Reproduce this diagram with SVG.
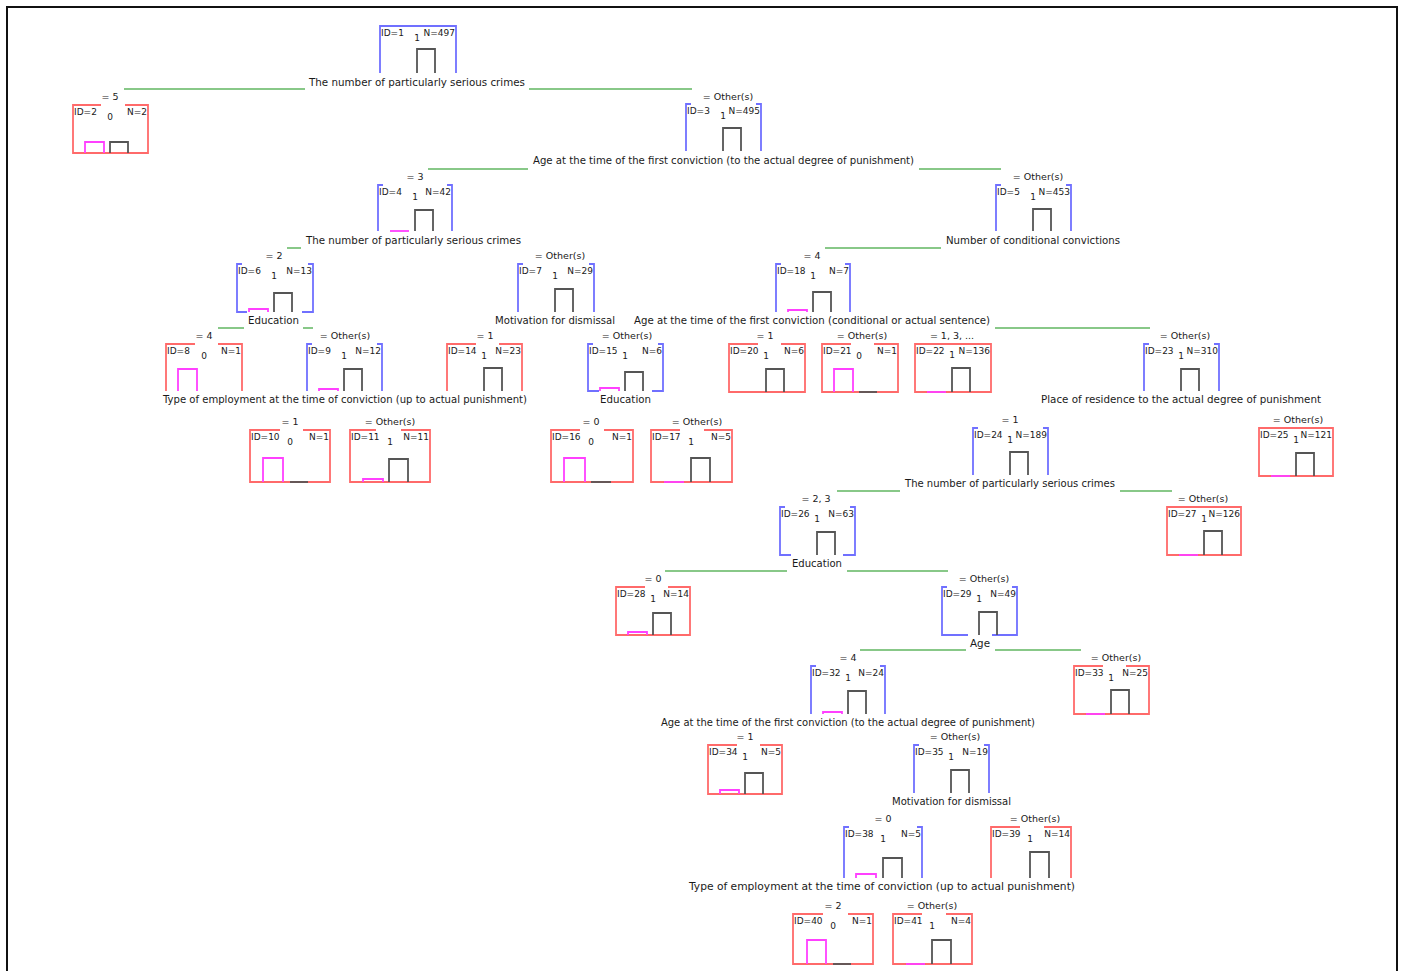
<svg xmlns="http://www.w3.org/2000/svg" width="1401" height="971" viewBox="0 0 1401 971">
<style>
.bl{stroke:#7070ff;fill:none;stroke-width:1.8}
.rd{stroke:#ff6a6a;fill:none;stroke-width:1.8}
.mg{stroke:#ff40ff;fill:none;stroke-width:1.8}
.dk{stroke:#555;fill:none;stroke-width:1.8}
.gr{stroke:#88c888;fill:none;stroke-width:1.8}
text{font-family:"DejaVu Sans","Liberation Sans",sans-serif;fill:#1a1a1a}
.i{font-size:9px}
.n{font-size:9px;text-anchor:end}
.c{font-size:9px;text-anchor:middle}
.e{font-size:9.5px;text-anchor:middle}
.s{font-size:10px;text-anchor:middle}
</style>
<rect width="1401" height="971" fill="#fff"/>
<path d="M7,975 V7 H1397 V975" fill="none" stroke="#111" stroke-width="2"/>
<g id="connectors">
<path class="gr" d="M124,89 H305 M529,89 H692 M428,169 H528 M919,169 H1001 M287,248 H301 M825,248 H941 M218,328 H244 M303,328 H313 M995,328 H1150 M837,491 H900 M1120,491 H1172 M665,571 H787 M847,571 H948 M860,650 H966 M995,650 H1081"/>
</g>
<g id="n1"><path class="bl" d="M380,73 V26 H456 V73"/><path class="dk" d="M417,73 V49 H435 V73"/><text class="i" x="381" y="36">ID=1</text><text class="c" x="417" y="41">1</text><text class="n" x="455" y="36">N=497</text><text class="s" x="417" y="85.5" textLength="216" lengthAdjust="spacingAndGlyphs">The number of particularly serious crimes</text></g>
<g id="n2"><text class="e" x="110" y="100">= 5</text><path class="rd" d="M101,105 H73 V153 H148 V105 H125"/><path class="mg" d="M85,153 V142 H104 V153"/><path class="dk" d="M110,153 V142 H128 V153"/><text class="i" x="74" y="115">ID=2</text><text class="c" x="110" y="120">0</text><text class="n" x="147" y="115">N=2</text></g>
<g id="n3"><text class="e" x="728" y="100">= Other(s)</text><path class="bl" d="M691,104 H686 V151 M756,104 H761 V151"/><path class="dk" d="M723,151 V128 H741 V151"/><text class="i" x="687" y="114">ID=3</text><text class="c" x="723" y="119">1</text><text class="n" x="760" y="114">N=495</text><text class="s" x="723.5" y="164" textLength="381" lengthAdjust="spacingAndGlyphs">Age at the time of the first conviction (to the actual degree of punishment)</text></g>
<g id="n4"><text class="e" x="415" y="180">= 3</text><path class="bl" d="M383,185 H378 V231 M447,185 H452 V231"/><path class="mg" d="M390,231 H409"/><path class="dk" d="M415,231 V210 H433 V231"/><text class="i" x="379" y="195">ID=4</text><text class="c" x="415" y="200">1</text><text class="n" x="451" y="195">N=42</text><text class="s" x="413.5" y="244" textLength="215" lengthAdjust="spacingAndGlyphs">The number of particularly serious crimes</text></g>
<g id="n5"><text class="e" x="1038" y="180">= Other(s)</text><path class="bl" d="M1001,185 H996 V231 M1066,185 H1071 V231"/><path class="dk" d="M1033,231 V209 H1051 V231"/><text class="i" x="997" y="195">ID=5</text><text class="c" x="1033" y="200">1</text><text class="n" x="1070" y="195">N=453</text><text class="s" x="1033" y="244" textLength="174" lengthAdjust="spacingAndGlyphs">Number of conditional convictions</text></g>
<g id="n6"><text class="e" x="274" y="259">= 2</text><path class="bl" d="M242,264 H237 V312 H247 M308,264 H313 V312 H302"/><path class="mg" d="M249,312 V309 H268 V312"/><path class="dk" d="M274,312 V293 H292 V312"/><text class="i" x="238" y="274">ID=6</text><text class="c" x="274" y="279">1</text><text class="n" x="312" y="274">N=13</text><text class="s" x="273.5" y="324" textLength="51" lengthAdjust="spacingAndGlyphs">Education</text></g>
<g id="n7"><text class="e" x="560" y="259">= Other(s)</text><path class="bl" d="M523,264 H518 V312 M589,264 H594 V312"/><path class="dk" d="M555,312 V289 H573 V312"/><text class="i" x="519" y="274">ID=7</text><text class="c" x="555" y="279">1</text><text class="n" x="593" y="274">N=29</text><text class="s" x="555" y="324" textLength="120" lengthAdjust="spacingAndGlyphs">Motivation for dismissal</text></g>
<g id="n18"><text class="e" x="812" y="259">= 4</text><path class="bl" d="M781,264 H776 V312 M845,264 H850 V312"/><path class="mg" d="M788,312 V310 H807 V312"/><path class="dk" d="M813,312 V292 H831 V312"/><text class="i" x="777" y="274">ID=18</text><text class="c" x="813" y="279">1</text><text class="n" x="849" y="274">N=7</text><text class="s" x="812" y="324" textLength="356" lengthAdjust="spacingAndGlyphs">Age at the time of the first conviction (conditional or actual sentence)</text></g>
<g id="n8"><text class="e" x="204" y="339">= 4</text><path class="rd" d="M195,344 H166 V391 M218,344 H242 V391"/><path class="mg" d="M178,391 V369 H197 V391"/><text class="i" x="167" y="354">ID=8</text><text class="c" x="204" y="359">0</text><text class="n" x="241" y="354">N=1</text></g>
<g id="n9"><text class="e" x="345" y="339">= Other(s)</text><path class="bl" d="M312,344 H307 V391 M377,344 H382 V391"/><path class="mg" d="M319,391 V389 H338 V391"/><path class="dk" d="M344,391 V369 H362 V391"/><text class="i" x="308" y="354">ID=9</text><text class="c" x="344" y="359">1</text><text class="n" x="381" y="354">N=12</text><text class="s" x="345" y="403" textLength="364" lengthAdjust="spacingAndGlyphs">Type of employment at the time of conviction (up to actual punishment)</text></g>
<g id="n14"><text class="e" x="485" y="339">= 1</text><path class="rd" d="M476,344 H447 V391 M499,344 H522 V391"/><path class="dk" d="M484,391 V368 H502 V391"/><text class="i" x="448" y="354">ID=14</text><text class="c" x="484" y="359">1</text><text class="n" x="521" y="354">N=23</text></g>
<g id="n15"><text class="e" x="627" y="339">= Other(s)</text><path class="bl" d="M593,344 H588 V391 H599 M658,344 H663 V391 H652"/><path class="mg" d="M600,391 V388 H619 V391"/><path class="dk" d="M625,391 V372 H643 V391"/><text class="i" x="589" y="354">ID=15</text><text class="c" x="625" y="359">1</text><text class="n" x="662" y="354">N=6</text><text class="s" x="625.5" y="403" textLength="51" lengthAdjust="spacingAndGlyphs">Education</text></g>
<g id="n20"><text class="e" x="765" y="339">= 1</text><path class="rd" d="M758,344 H729 V392 H805 V344 H781"/><path class="dk" d="M766,392 V369 H784 V392"/><text class="i" x="730" y="354">ID=20</text><text class="c" x="766" y="359">1</text><text class="n" x="804" y="354">N=6</text></g>
<g id="n21"><text class="e" x="862" y="339">= Other(s)</text><path class="rd" d="M851,344 H822 V392 H898 V344 H874"/><path class="mg" d="M834,392 V369 H853 V392"/><path class="dk" d="M859,392 H877"/><text class="i" x="823" y="354">ID=21</text><text class="c" x="859" y="359">0</text><text class="n" x="897" y="354">N=1</text></g>
<g id="n22"><text class="e" x="952" y="339">= 1, 3, ...</text><path class="rd" d="M915,344 H991 V392 H915 Z"/><path class="mg" d="M927,392 H946"/><path class="dk" d="M952,392 V368 H970 V392"/><text class="i" x="916" y="354">ID=22</text><text class="c" x="952" y="358">1</text><text class="n" x="990" y="354">N=136</text></g>
<g id="n23"><text class="e" x="1185" y="339">= Other(s)</text><path class="bl" d="M1149,344 H1144 V391 M1214,344 H1219 V391"/><path class="dk" d="M1181,391 V369 H1199 V391"/><text class="i" x="1145" y="354">ID=23</text><text class="c" x="1181" y="359">1</text><text class="n" x="1218" y="354">N=310</text><text class="s" x="1181" y="403" textLength="280" lengthAdjust="spacingAndGlyphs">Place of residence to the actual degree of punishment</text></g>
<g id="n10"><text class="e" x="290" y="425">= 1</text><path class="rd" d="M280,430 H250 V482 H330 V430 H303"/><path class="mg" d="M263,482 V458 H283 V482"/><path class="dk" d="M290,482 H308"/><text class="i" x="251" y="440">ID=10</text><text class="c" x="290" y="445">0</text><text class="n" x="329" y="440">N=1</text></g>
<g id="n11"><text class="e" x="390" y="425">= Other(s)</text><path class="rd" d="M376,430 H350 V482 H430 V430 H401"/><path class="mg" d="M363,482 V479 H383 V482"/><path class="dk" d="M389,482 V459 H408 V482"/><text class="i" x="351" y="440">ID=11</text><text class="c" x="390" y="445">1</text><text class="n" x="429" y="440">N=11</text></g>
<g id="n16"><text class="e" x="591" y="425">= 0</text><path class="rd" d="M580,430 H551 V482 H633 V430 H604"/><path class="mg" d="M564,482 V458 H585 V482"/><path class="dk" d="M591,482 H611"/><text class="i" x="552" y="440">ID=16</text><text class="c" x="591" y="445">0</text><text class="n" x="632" y="440">N=1</text></g>
<g id="n17"><text class="e" x="697" y="425">= Other(s)</text><path class="rd" d="M680,430 H651 V482 H732 V430 H704"/><path class="mg" d="M664,482 H684"/><path class="dk" d="M691,482 V458 H710 V482"/><text class="i" x="652" y="440">ID=17</text><text class="c" x="691" y="445">1</text><text class="n" x="731" y="440">N=5</text></g>
<g id="n24"><text class="e" x="1010" y="423">= 1</text><path class="bl" d="M978,428 H973 V475 M1043,428 H1048 V475"/><path class="dk" d="M1010,475 V452 H1028 V475"/><text class="i" x="974" y="438">ID=24</text><text class="c" x="1010" y="443">1</text><text class="n" x="1047" y="438">N=189</text><text class="s" x="1010" y="487" textLength="210" lengthAdjust="spacingAndGlyphs">The number of particularly serious crimes</text></g>
<g id="n25"><text class="e" x="1298" y="423">= Other(s)</text><path class="rd" d="M1259,428 H1333 V476 H1259 Z"/><path class="mg" d="M1271,476 H1290"/><path class="dk" d="M1296,476 V453 H1314 V476"/><text class="i" x="1260" y="438">ID=25</text><text class="c" x="1296" y="443">1</text><text class="n" x="1332" y="438">N=121</text></g>
<g id="n26"><text class="e" x="816" y="502">= 2, 3</text><path class="bl" d="M785,507 H780 V555 H791 M850,507 H855 V555 H843"/><path class="dk" d="M817,555 V532 H835 V555"/><text class="i" x="781" y="517">ID=26</text><text class="c" x="817" y="522">1</text><text class="n" x="854" y="517">N=63</text><text class="s" x="817" y="567" textLength="50" lengthAdjust="spacingAndGlyphs">Education</text></g>
<g id="n27"><text class="e" x="1203" y="502">= Other(s)</text><path class="rd" d="M1167,507 H1241 V555 H1167 Z"/><path class="mg" d="M1179,555 H1198"/><path class="dk" d="M1204,555 V531 H1222 V555"/><text class="i" x="1168" y="517">ID=27</text><text class="c" x="1204" y="522">1</text><text class="n" x="1240" y="517">N=126</text></g>
<g id="n28"><text class="e" x="653" y="582">= 0</text><path class="rd" d="M645,587 H616 V635 H690 V587 H668"/><path class="mg" d="M628,635 V632 H647 V635"/><path class="dk" d="M653,635 V613 H671 V635"/><text class="i" x="617" y="597">ID=28</text><text class="c" x="653" y="602">1</text><text class="n" x="689" y="597">N=14</text></g>
<g id="n29"><text class="e" x="984" y="582">= Other(s)</text><path class="bl" d="M947,587 H942 V635 H968 M1012,587 H1017 V635 H992"/><path class="dk" d="M979,635 V612 H997 V635"/><text class="i" x="943" y="597">ID=29</text><text class="c" x="979" y="602">1</text><text class="n" x="1016" y="597">N=49</text><text class="s" x="980" y="647" textLength="20" lengthAdjust="spacingAndGlyphs">Age</text></g>
<g id="n32"><text class="e" x="848" y="661">= 4</text><path class="bl" d="M816,666 H811 V714 M880,666 H885 V714"/><path class="mg" d="M823,714 V712 H842 V714"/><path class="dk" d="M848,714 V691 H866 V714"/><text class="i" x="812" y="676">ID=32</text><text class="c" x="848" y="681">1</text><text class="n" x="884" y="676">N=24</text><text class="s" x="848" y="726" textLength="374" lengthAdjust="spacingAndGlyphs">Age at the time of the first conviction (to the actual degree of punishment)</text></g>
<g id="n33"><text class="e" x="1116" y="661">= Other(s)</text><path class="rd" d="M1103,666 H1074 V714 H1149 V666 H1126"/><path class="mg" d="M1086,714 H1105"/><path class="dk" d="M1111,714 V690 H1129 V714"/><text class="i" x="1075" y="676">ID=33</text><text class="c" x="1111" y="681">1</text><text class="n" x="1148" y="676">N=25</text></g>
<g id="n34"><text class="e" x="745" y="740">= 1</text><path class="rd" d="M737,745 H708 V794 H782 V745 H760"/><path class="mg" d="M720,794 V790 H739 V794"/><path class="dk" d="M745,794 V773 H763 V794"/><text class="i" x="709" y="755">ID=34</text><text class="c" x="745" y="760">1</text><text class="n" x="781" y="755">N=5</text></g>
<g id="n35"><text class="e" x="955" y="740">= Other(s)</text><path class="bl" d="M919,745 H914 V793 M984,745 H989 V793"/><path class="dk" d="M951,793 V770 H969 V793"/><text class="i" x="915" y="755">ID=35</text><text class="c" x="951" y="760">1</text><text class="n" x="988" y="755">N=19</text><text class="s" x="951.5" y="805" textLength="119" lengthAdjust="spacingAndGlyphs">Motivation for dismissal</text></g>
<g id="n38"><text class="e" x="883" y="822">= 0</text><path class="bl" d="M849,827 H844 V878 M917,827 H922 V878"/><path class="mg" d="M856,878 V874 H876 V878"/><path class="dk" d="M883,878 V858 H902 V878"/><text class="i" x="845" y="837">ID=38</text><text class="c" x="883" y="842">1</text><text class="n" x="921" y="837">N=5</text><text class="s" x="882" y="890" textLength="386" lengthAdjust="spacingAndGlyphs">Type of employment at the time of conviction (up to actual punishment)</text></g>
<g id="n39"><text class="e" x="1035" y="822">= Other(s)</text><path class="rd" d="M1020,827 H991 V878 M1044,827 H1071 V878"/><path class="dk" d="M1030,878 V852 H1049 V878"/><text class="i" x="992" y="837">ID=39</text><text class="c" x="1030" y="842">1</text><text class="n" x="1070" y="837">N=14</text></g>
<g id="n40"><text class="e" x="833" y="909">= 2</text><path class="rd" d="M823,914 H793 V964 H873 V914 H848"/><path class="mg" d="M807,964 V940 H826 V964"/><path class="dk" d="M833,964 H851"/><text class="i" x="794" y="924">ID=40</text><text class="c" x="833" y="929">0</text><text class="n" x="872" y="924">N=1</text></g>
<g id="n41"><text class="e" x="932" y="909">= Other(s)</text><path class="rd" d="M922,914 H893 V964 H972 V914 H946"/><path class="mg" d="M906,964 H925"/><path class="dk" d="M932,964 V940 H951 V964"/><text class="i" x="894" y="924">ID=41</text><text class="c" x="932" y="929">1</text><text class="n" x="971" y="924">N=4</text></g>
</svg>
